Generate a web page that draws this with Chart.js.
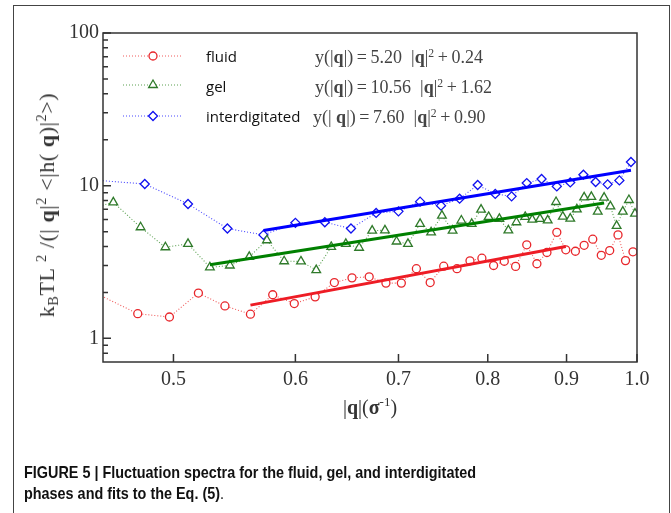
<!DOCTYPE html>
<html>
<head>
<meta charset="utf-8">
<script src="https://cdn.jsdelivr.net/npm/chart.js@4.4.1/dist/chart.umd.min.js"></script>
<style>
body { margin: 0; background: #fff; }
#wrap { position: relative; width: 671px; height: 513px; overflow: hidden; }
#frame { position: absolute; left: 13px; top: 5px; width: 655px; height: 600px; border: 1px solid #444; }
#wrap canvas { position: absolute; left: 0; top: 0; }
.t { position: absolute; white-space: nowrap; color: #222; }
.serif { font-family: "Liberation Serif", "DejaVu Serif", serif; }
.sans { font-family: "Open Sans", sans-serif; font-size: 15px; line-height: 20px; color: #111; }
.eq { font-size: 18px; line-height: 20px; color: #444; }
sup { font-size: 0.65em; vertical-align: 0.55em; line-height: 0; }
sub { font-size: 0.65em; vertical-align: -0.25em; line-height: 0; }
.cap { position: absolute; left: 24px; white-space: nowrap; transform-origin: 0 50%; font-family: "Liberation Sans", Arial, sans-serif; font-weight: bold; font-size: 16.5px; line-height: 21px; color: #111; }
</style>
</head>
<body>
<div id="wrap">
  <div id="frame"></div>
  <canvas id="chart" width="671" height="513"></canvas>

  <div class="t sans" style="left:206px; top:46px;">fluid</div>
  <div class="t sans" style="left:206px; top:76px;">gel</div>
  <div class="t sans" style="left:206px; top:106px;">interdigitated</div>
  <div class="t serif eq" style="left:315px; top:47px;">y(|<b>q</b>|)&thinsp;=&thinsp;5.20 &nbsp;|<b>q</b>|<sup>2</sup>&thinsp;+&thinsp;0.24</div>
  <div class="t serif eq" style="left:315px; top:77px;">y(|<b>q</b>|)&thinsp;=&thinsp;10.56 &nbsp;|<b>q</b>|<sup>2</sup>&thinsp;+&thinsp;1.62</div>
  <div class="t serif eq" style="left:313px; top:107px;">y(| <b>q</b>|)&thinsp;=&thinsp;7.60 &nbsp;|<b>q</b>|<sup>2</sup>&thinsp;+&thinsp;0.90</div>

  <div class="t serif" style="left:47px; top:205px; font-size:22px; letter-spacing:0.6px; color:#333; transform: translate(-50%,-50%) rotate(-90deg);">k<sub>B</sub>TL <sup>2</sup> /(| <b>q</b>|<sup>2</sup> &lt;|h( <b>q</b>)|<sup>2</sup>&gt;)</div>
  <div class="t serif" style="left:370px; top:407px; font-size:20px; color:#333; transform: translate(-50%,-50%);">|<b>q</b>|(<b>σ</b><sup>-1</sup>)</div>

  <div class="cap" id="cap1" style="top:462px;">FIGURE 5 | Fluctuation spectra for the fluid, gel, and interdigitated</div>
  <div class="cap" id="cap2" style="top:483px;">phases and fits to the Eq. (5)<span style="font-weight:normal">.</span></div>
</div>

<script>
// axis ticks
const xTicks = [0.5, 0.6, 0.7, 0.8, 0.9, 1.0];
const yMajor = [1, 10, 100];
const yMinor = [0.8, 0.9, 2, 3, 4, 5, 6, 7, 8, 9, 20, 30, 40, 50, 60, 70, 80, 90];

// fluid phase
const fluidQ = [0.44, 0.474, 0.497, 0.519, 0.540, 0.561, 0.580, 0.599, 0.618, 0.636,
  0.653, 0.670, 0.687, 0.703, 0.719, 0.734, 0.749, 0.764, 0.779, 0.793,
  0.807, 0.820, 0.834, 0.848, 0.861, 0.874, 0.887, 0.899, 0.912, 0.924,
  0.936, 0.948, 0.960, 0.972, 0.983, 0.994];
const fluidY = [2.09, 1.45, 1.38, 1.98, 1.63, 1.44, 1.93, 1.69, 1.87, 2.32,
  2.49, 2.53, 2.30, 2.30, 2.86, 2.32, 2.97, 2.86, 3.22, 3.35,
  3.00, 3.20, 2.96, 4.10, 3.08, 3.65, 4.95, 3.80, 3.72, 4.07,
  4.46, 3.50, 3.76, 4.76, 3.23, 3.69];

// gel phase
const gelQ = [0.44, 0.457, 0.476, 0.494, 0.511, 0.528, 0.544, 0.560, 0.575, 0.590,
  0.605, 0.619, 0.633, 0.647, 0.660, 0.673, 0.686, 0.698, 0.710, 0.723,
  0.735, 0.747, 0.759, 0.769, 0.781, 0.792, 0.801, 0.814, 0.825, 0.835,
  0.846, 0.855, 0.865, 0.875, 0.886, 0.895, 0.905, 0.914, 0.924, 0.934,
  0.943, 0.952, 0.961, 0.970, 0.979, 0.988, 0.997];
const gelY = [7.02, 7.78, 5.34, 3.95, 4.16, 2.92, 3.00, 3.42, 4.39, 3.20,
  3.19, 2.80, 3.97, 4.16, 3.92, 5.08, 5.10, 4.31, 4.16, 5.62,
  4.95, 6.37, 5.08, 5.91, 5.62, 6.97, 6.24, 6.06, 5.10, 5.76,
  6.24, 5.99, 6.06, 5.93, 7.82, 6.27, 6.09, 7.00, 8.39, 8.44,
  6.76, 8.35, 7.32, 5.45, 6.76, 8.06, 6.56];

// interdigitated phase
const interQ = [0.44, 0.479, 0.511, 0.542, 0.572, 0.600, 0.627, 0.652, 0.677, 0.700,
  0.723, 0.746, 0.767, 0.788, 0.809, 0.829, 0.848, 0.867, 0.887, 0.905,
  0.923, 0.940, 0.957, 0.974, 0.991];
const interY = [10.96, 10.26, 7.59, 5.24, 4.76, 5.71, 5.76, 5.24, 6.63, 6.79,
  7.86, 7.40, 8.22, 10.1, 8.83, 8.51, 10.4, 11.06, 9.89, 10.5,
  11.8, 10.57, 10.2, 10.83, 14.3];

// fit lines (end points)
const fluidFitQ = [0.561, 0.899], fluidFitY = [1.65, 4.0];
const gelFitQ = [0.528, 0.952], gelFitY = [3.03, 7.71];
const interFitQ = [0.572, 0.991], interFitY = [5.08, 12.6];

const pts = (qs, ys) => qs.map((q, i) => ({ x: q, y: ys[i] }));

const series = [
  { label: 'fluid', q: fluidQ, y: fluidY, line: '#f05a5a', mark: '#e8262b', style: 'circle', r: 4, fq: fluidFitQ, fy: fluidFitY, fit: '#ee1c25', ly: 56 },
  { label: 'gel', q: gelQ, y: gelY, line: '#5aa050', mark: '#2f7a2a', style: 'triangle', r: 5, fq: gelFitQ, fy: gelFitY, fit: '#008000', ly: 85 },
  { label: 'interdigitated', q: interQ, y: interY, line: '#4848ff', mark: '#1010f0', style: 'rectRot', r: 4.5, fq: interFitQ, fy: interFitY, fit: '#0000ff', ly: 116 }
];

const datasets = [];
series.forEach(s => {
  datasets.push({
    label: s.label + ' fit', data: pts(s.fq, s.fy), borderColor: s.fit, borderWidth: 3,
    pointRadius: 0, order: 0
  });
  datasets.push({
    label: s.label, data: pts(s.q, s.y), borderColor: s.line, borderWidth: 1.1, borderDash: [1, 2],
    pointStyle: s.style, pointRadius: s.r, pointBorderColor: s.mark, pointBackgroundColor: '#fff',
    pointBorderWidth: 1.3, order: 1
  });
});

const axisBox = {
  id: 'axisBox',
  afterDraw(chart) {
    const { ctx, chartArea: a, scales: { x, y } } = chart;
    ctx.save();
    ctx.strokeStyle = '#333';
    ctx.lineWidth = 1.5;
    ctx.strokeRect(a.left, a.top, a.right - a.left, a.bottom - a.top);
    ctx.beginPath();
    y.ticks.forEach(t => {
      const py = y.getPixelForValue(t.value);
      const len = yMajor.includes(t.value) ? 8 : 5;
      ctx.moveTo(a.left, py); ctx.lineTo(a.left + len, py);
    });
    x.ticks.forEach(t => {
      const px = x.getPixelForValue(t.value);
      ctx.moveTo(px, a.bottom); ctx.lineTo(px, a.bottom - 8);
    });
    ctx.stroke();

    // legend samples
    series.forEach(s => {
      ctx.strokeStyle = s.line;
      ctx.lineWidth = 1;
      ctx.setLineDash([1, 2]);
      ctx.beginPath();
      ctx.moveTo(123, s.ly); ctx.lineTo(182, s.ly);
      ctx.stroke();
      ctx.setLineDash([]);
      ctx.fillStyle = '#fff';
      ctx.strokeStyle = s.mark;
      ctx.lineWidth = 1.3;
      Chart.helpers.drawPoint(ctx, { pointStyle: s.style, radius: s.r, borderWidth: 1.3, rotation: 0 }, 153, s.ly);
    });
    ctx.restore();
  }
};

new Chart(document.getElementById('chart'), {
  type: 'line',
  data: { datasets: datasets },
  options: {
    responsive: false,
    animation: false,
    devicePixelRatio: 1,
    layout: { padding: { left: 0, right: 34, top: 33, bottom: 0 } },
    plugins: { legend: { display: false }, tooltip: { enabled: false } },
    scales: {
      x: {
        type: 'logarithmic', min: 0.45, max: 1.0,
        afterBuildTicks: sc => { sc.ticks = xTicks.map(v => ({ value: v })); },
        afterFit: sc => { sc.height = 151; },
        grid: { display: false, drawTicks: false },
        border: { display: false },
        ticks: {
          autoSkip: false, maxRotation: 0, padding: 6, color: '#333',
          font: { family: 'Liberation Serif', size: 20 },
          callback: v => Number(v).toFixed(1)
        }
      },
      y: {
        type: 'logarithmic', min: 0.71, max: 100,
        afterBuildTicks: sc => { sc.ticks = yMajor.concat(yMinor).sort((a, b) => a - b).map(v => ({ value: v })); },
        afterFit: sc => { sc.width = 103; },
        grid: { display: false, drawTicks: false },
        border: { display: false },
        ticks: {
          autoSkip: false, padding: 4, color: '#333',
          font: { family: 'Liberation Serif', size: 20 },
          callback: v => yMajor.includes(v) ? String(v) : ''
        }
      }
    }
  },
  plugins: [axisBox]
});

// squeeze the caption to the condensed width of the original
const cap1 = document.getElementById('cap1'), cap2 = document.getElementById('cap2');
const k = 452 / cap1.offsetWidth;
cap1.style.transform = 'scaleX(' + k + ')';
cap2.style.transform = 'scaleX(' + k + ')';
</script>
</body>
</html>
